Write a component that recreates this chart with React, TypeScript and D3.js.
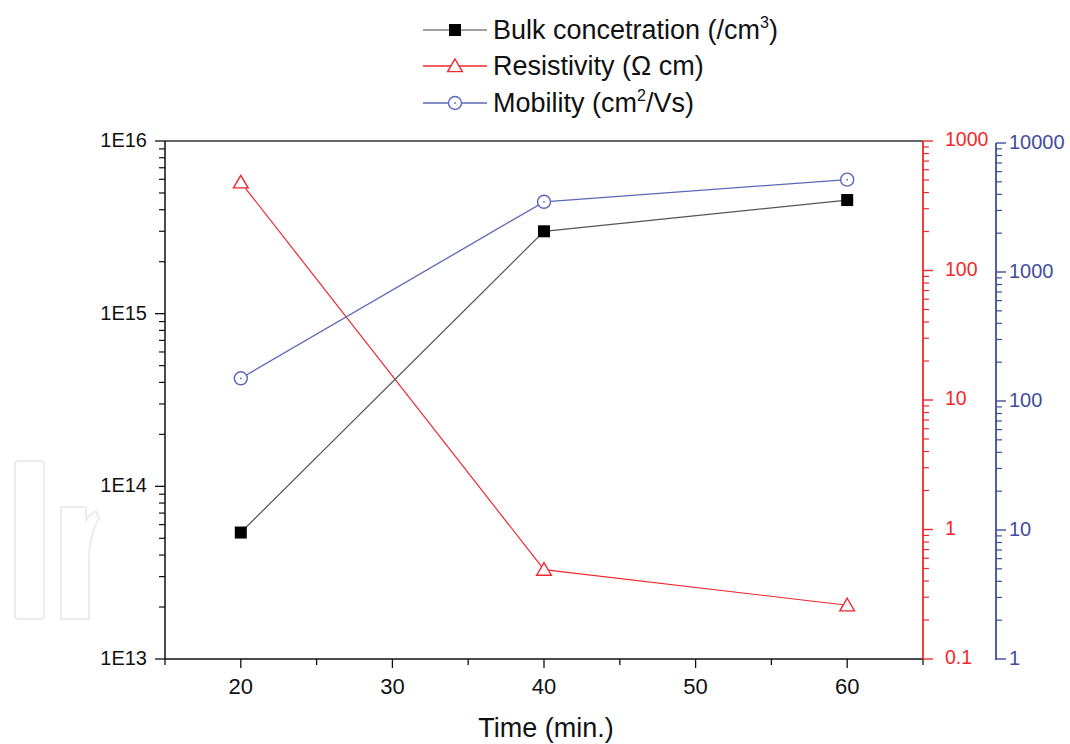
import React from "react";
import * as d3 from "d3";

const times = [20, 40, 60];
const bulk = [5.4e13, 3.0e15, 4.55e15];
const resistivity = [480, 0.49, 0.26];
const mobility = [150, 3500, 5200];
const xTicks = [20, 30, 40, 50, 60];
const leftTicks = [1e13, 1e14, 1e15, 1e16];
const leftLabels = ["1E13", "1E14", "1E15", "1E16"];
const redTicks = [0.1, 1, 10, 100, 1000];
const redLabels = ["0.1", "1", "10", "100", "1000"];
const blueTicks = [1, 10, 100, 1000, 10000];
const blueLabels = ["1", "10", "100", "1000", "10000"];

const W = 1070, H = 744;
const L = 165, R = 923, T = 141, B = 659;
const BLUEX = 996;
const FONT = "'Liberation Sans', Arial, sans-serif";
const RED = "#f0282d";
const BLUE = "#3f4c9e";
const BLUE_L = "#5a67b8";

function minorTicks(lo: number, hi: number) {
  const out: number[] = [];
  for (let d = lo; d < hi; d *= 10) {
    for (let k = 2; k <= 9; k++) out.push(d * k);
  }
  return out;
}

export default function App() {
  const x = d3.scaleLinear().domain([15, 65]).range([L, R]);
  const yL = d3.scaleLog().domain([1e13, 1e16]).range([B, T]);
  const yR = d3.scaleLog().domain([0.1, 1000]).range([B, T]);
  const yB = d3.scaleLog().domain([1, 10000]).range([B, 143]);

  const line = (ys: (v: number) => number, vals: number[]) =>
    d3.line<number>().x((_, i) => x(times[i])).y((v) => ys(v))(vals) || "";

  const tri = (cx: number, cy: number, s = 7) =>
    `M${cx},${cy - s}L${cx + s * 1.05},${cy + s * 0.8}L${cx - s * 1.05},${cy + s * 0.8}Z`;

  const legendRows = [
    { y: 30, color: "#808080", marker: "square", label: <>Bulk concetration (/cm<tspan dy={-11} fontSize={16}>3</tspan><tspan dy={11}>)</tspan></> },
    { y: 66, color: RED, marker: "tri", label: <>Resistivity (Ω cm)</> },
    { y: 103, color: BLUE_L, marker: "circle", label: <>Mobility (cm<tspan dy={-11} fontSize={16}>2</tspan><tspan dy={11}>/Vs)</tspan></> },
  ];

  const drawMarker = (kind: string, cx: number, cy: number, key: string | number) => {
    if (kind === "square")
      return <rect key={key} x={cx - 6} y={cy - 6} width={12} height={12} fill="#000" />;
    if (kind === "tri")
      return <path key={key} d={tri(cx, cy)} fill="#fff" stroke={RED} strokeWidth={1.4} />;
    return (
      <g key={key}>
        <circle cx={cx} cy={cy} r={6.5} fill="#fff" stroke={BLUE_L} strokeWidth={1.4} />
        <circle cx={cx} cy={cy} r={0.9} fill={BLUE_L} />
      </g>
    );
  };

  return (
    <svg width={W} height={H} style={{ position: "absolute", left: 0, top: 0, background: "#fff" }} fontFamily={FONT}>
      {/* watermark */}
      <g fill="none" stroke="#ececec" strokeWidth={2}>
        <rect x={15} y={461} width={29} height={158} rx={3} />
        <path d="M61,541 L61,619 L89,619 L89,560 Q89,535 99,518 L96,511 Q90,514 86,520 L86,507 L61,507 Z" />
      </g>

      {/* frame top */}
      <line x1={L} x2={R} y1={T} y2={T} stroke="#333" strokeWidth={1.5} />

      {/* x axis */}
      <line x1={L} x2={R} y1={B} y2={B} stroke="#111" strokeWidth={1.5} />
      {d3.range(15, 66, 5).map((v) => {
        const major = v % 10 === 0;
        return (
          <g key={v}>
            <line x1={x(v)} x2={x(v)} y1={B} y2={B + (major ? 9 : 6)} stroke="#111" strokeWidth={1.3} />
            {xTicks.includes(v) && (
              <text x={x(v)} y={694} textAnchor="middle" fontSize={22} fill="#111">{v}</text>
            )}
          </g>
        );
      })}
      <text x={546} y={737} textAnchor="middle" fontSize={27} fill="#111">Time (min.)</text>

      {/* left axis */}
      <line x1={L} x2={L} y1={T} y2={B} stroke="#111" strokeWidth={1.5} />
      {minorTicks(1e13, 1e16).map((v, i) => (
        <line key={"lm" + i} x1={L} x2={L - 6} y1={yL(v)} y2={yL(v)} stroke="#111" strokeWidth={1.2} />
      ))}
      {leftTicks.map((v, i) => (
        <g key={"lt" + i}>
          <line x1={L} x2={L - 10} y1={yL(v)} y2={yL(v)} stroke="#111" strokeWidth={1.3} />
          <text x={147} y={yL(v) + 6} textAnchor="end" fontSize={20} fill="#111">{leftLabels[i]}</text>
        </g>
      ))}

      {/* red right axis */}
      <line x1={R} x2={R} y1={T} y2={B} stroke={RED} strokeWidth={1.8} />
      {minorTicks(0.1, 1000).map((v, i) => (
        <line key={"rm" + i} x1={R} x2={R + 6} y1={yR(v)} y2={yR(v)} stroke={RED} strokeWidth={1.2} />
      ))}
      {redTicks.map((v, i) => (
        <g key={"rt" + i}>
          <line x1={R} x2={R + 10} y1={yR(v)} y2={yR(v)} stroke={RED} strokeWidth={1.4} />
          <text x={945} y={yR(v) + 5} fontSize={19.5} fill={RED}>{redLabels[i]}</text>
        </g>
      ))}

      {/* blue axis */}
      <line x1={BLUEX} x2={BLUEX} y1={143} y2={B + 1} stroke={BLUE} strokeWidth={1.8} />
      {minorTicks(1, 10000).map((v, i) => (
        <line key={"bm" + i} x1={BLUEX} x2={BLUEX + 6} y1={yB(v)} y2={yB(v)} stroke={BLUE} strokeWidth={1.2} />
      ))}
      {blueTicks.map((v, i) => (
        <g key={"bt" + i}>
          <line x1={BLUEX} x2={BLUEX + 10} y1={yB(v)} y2={yB(v)} stroke={BLUE} strokeWidth={1.4} />
          <text x={1009} y={yB(v) + 6} fontSize={20} fill={BLUE}>{blueLabels[i]}</text>
        </g>
      ))}

      {/* series lines */}
      <path d={line(yR, resistivity)} fill="none" stroke={RED} strokeWidth={1.2} />
      <path d={line(yB, mobility)} fill="none" stroke={BLUE_L} strokeWidth={1.3} />
      <path d={line(yL, bulk)} fill="none" stroke="#555" strokeWidth={1.2} />

      {/* markers */}
      {resistivity.map((v, i) => drawMarker("tri", x(times[i]), yR(v), "r" + i))}
      {mobility.map((v, i) => drawMarker("circle", x(times[i]), yB(v), "m" + i))}
      {bulk.map((v, i) => drawMarker("square", x(times[i]), yL(v), "b" + i))}

      {/* legend */}
      {legendRows.map((r, i) => (
        <g key={"lg" + i}>
          <line x1={423} x2={487} y1={r.y} y2={r.y} stroke={r.color} strokeWidth={1.4} />
          {drawMarker(r.marker, 455, r.y, "lm" + i)}
          <text x={493} y={r.y + 9} fontSize={27} fill="#111">{r.label}</text>
        </g>
      ))}
    </svg>
  );
}
